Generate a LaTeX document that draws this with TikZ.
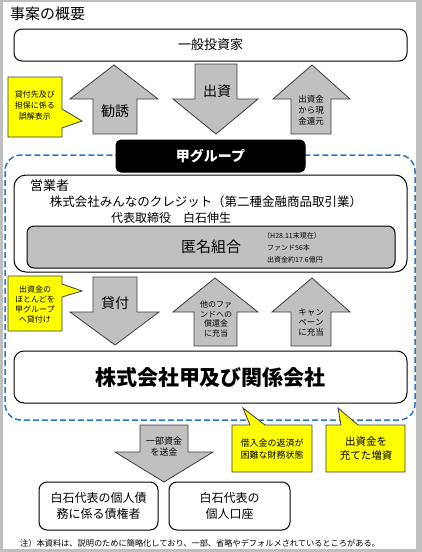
\documentclass[tikz,border=0pt]{standalone}
\usepackage{fontspec}
\setmainfont{Noto Sans CJK JP}
\usetikzlibrary{positioning}
\definecolor{arrowgray}{RGB}{192,192,192}
\definecolor{edgegray}{RGB}{60,60,60}
\definecolor{noteyellow}{RGB}{255,255,0}
\definecolor{groupblue}{RGB}{40,120,200}
\tikzset{
    box/.style={
        draw=black,
        line width=1pt,
        rounded corners=8pt,
        fill=white,
        inner sep=0pt,
        align=center
    },
    blockarrow/.style={
        draw=edgegray,
        fill=arrowgray,
        line width=0.8pt
    },
    callout/.style={
        draw=edgegray,
        fill=noteyellow,
        line width=0.8pt
    },
    lbl/.style={
        inner sep=0pt,
        align=center
    }
}

\begin{document}
\begin{tikzpicture}[
    x=1pt,
    y=-1pt
]

    % Marco
    \fill[black!25] (0,0) rectangle (422,552);
    \fill[white] (3,2) rectangle (416,549);
    \useasboundingbox (0,0) rectangle (422,552);

    \node[lbl, anchor=west, font=\fontsize{15}{15}\selectfont]
        (title) at (10,14) {事案の概要};

    % Inversores
    \node[box, minimum width=393pt, minimum height=32pt,
        font=\fontsize{13}{13}\selectfont]
        (investor) at (210.5,45) {一般投資家};

    % Flechas superiores
    \draw[blockarrow] (93,134) -- (93,99) -- (70,99) -- (114,65)
        -- (158,99) -- (137,99) -- (137,134) -- cycle;
    \draw[blockarrow] (195,64) -- (237,64) -- (237,99) -- (258,99)
        -- (216,134) -- (173,99) -- (195,99) -- cycle;
    \draw[blockarrow] (291,134) -- (291,99) -- (273,99) -- (312,65)
        -- (350,99) -- (331,99) -- (331,134) -- cycle;
    \node[lbl, font=\fontsize{14}{14}\selectfont]
        (solicit) at (115,111) {勧誘};
    \node[lbl, font=\fontsize{14}{14}\selectfont]
        (invest) at (217,91) {出資};
    \node[lbl, font=\fontsize{8.5}{11}\selectfont]
        (refund) at (311,110) {出資金\\から現\\金還元};

    % Nota: representacion enganosa
    \draw[callout] (8,77) -- (62,77) -- (62,109) -- (82,121) -- (62,128)
        -- (62,137) -- (8,137) -- cycle;
    \node[lbl, font=\fontsize{8}{11}\selectfont]
        (misrep) at (35,105) {貸付先及び\\担保に係る\\誤解表示};

    % Grupo
    \draw[groupblue, line width=1.5pt, dash pattern=on 6pt off 3pt,
        rounded corners=16pt] (5,155) rectangle (415,420);
    \node[box, fill=black, draw=black, text=white, rounded corners=5pt,
        minimum width=189pt, minimum height=32pt,
        font=\bfseries\fontsize{14}{14}\selectfont]
        (group) at (210.5,156) {甲グループ};

    % Operador
    \node[box, rounded corners=12pt, minimum width=393pt, minimum height=97pt]
        (operator) at (210.5,223.5) {};
    \node[lbl, anchor=west, font=\fontsize{13}{13}\selectfont]
        (dealer) at (30,186) {営業者};
    \node[lbl, font=\fontsize{12.5}{12.5}\selectfont]
        (minna) at (206,202) {株式会社みんなのクレジット（第二種金融商品取引業）};
    \node[lbl, font=\fontsize{12}{12}\selectfont]
        (ceo) at (171,218) {代表取締役　白石伸生};
    \node[box, fill=arrowgray, rounded corners=7pt,
        minimum width=368pt, minimum height=42pt,
        font=\fontsize{15}{15}\selectfont]
        (anon) at (211,247) {匿名組合};
    \node[lbl, anchor=west, font=\fontsize{7}{7}\selectfont]
        (funddate) at (263,236) {（H28.11末現在）};
    \node[lbl, anchor=west, font=\fontsize{7}{7}\selectfont]
        (fundnum) at (267,248) {ファンド56本};
    \node[lbl, anchor=west, font=\fontsize{7}{7}\selectfont]
        (fundsum) at (267,260) {出資金約17.6億円};

    % Flechas centrales
    \draw[blockarrow] (93,277) -- (137,277) -- (137,312) -- (159,312)
        -- (115,345) -- (70,312) -- (93,312) -- cycle;
    \draw[blockarrow] (194,346) -- (194,312) -- (173,312) -- (215,278)
        -- (258,312) -- (237,312) -- (237,346) -- cycle;
    \draw[blockarrow] (291,346) -- (291,312) -- (272,312) -- (312,278)
        -- (350,312) -- (331,312) -- (331,346) -- cycle;
    \node[lbl, font=\fontsize{14}{14}\selectfont]
        (loan) at (115,303) {貸付};
    \node[lbl, font=\fontsize{8}{9.5}\selectfont]
        (repay) at (216,319) {他のファ\\ンドへの\\償還金\\に充当};
    \node[lbl, font=\fontsize{8.5}{10}\selectfont]
        (campaign) at (311,322) {キャン\\ペーン\\に充当};

    % Nota: prestamo al grupo
    \draw[callout] (8,276) -- (62,276) -- (62,284) -- (82,291) -- (62,297)
        -- (62,331) -- (8,331) -- cycle;
    \node[lbl, font=\fontsize{8}{10}\selectfont]
        (lend) at (35,304) {出資金の\\ほとんどを\\甲グループ\\へ貸付け};

    % Sociedades
    \node[box, rounded corners=10pt, minimum width=393pt, minimum height=52pt,
        font=\bfseries\fontsize{21}{21}\selectfont]
        (company) at (210.5,377) {株式会社甲及び関係会社};

    % Parte inferior
    \draw[blockarrow] (140,425) -- (188,425) -- (188,452) -- (213,452)
        -- (164,482) -- (115,452) -- (140,452) -- cycle;
    \node[lbl, font=\fontsize{9}{11}\selectfont]
        (remit) at (164,447) {一部資金\\を送金};

    \draw[callout] (232,425) -- (250,425) -- (243,408) -- (265,425)
        -- (312,425) -- (312,472) -- (232,472) -- cycle;
    \node[lbl, font=\fontsize{9}{12}\selectfont]
        (distress) at (272,449) {借入金の返済が\\困難な財務状態};
    \draw[callout] (326,425) -- (341,425) -- (338,408) -- (358,425)
        -- (405,425) -- (405,472) -- (326,472) -- cycle;
    \node[lbl, font=\fontsize{10.5}{14}\selectfont]
        (increase) at (366,449) {出資金を\\充てた増資};

    \node[box, minimum width=119pt, minimum height=48pt,
        font=\fontsize{12}{16}\selectfont]
        (creditor) at (98.5,506) {白石代表の個人債\\務に係る債権者};
    \node[box, minimum width=121pt, minimum height=48pt,
        font=\fontsize{12}{16}\selectfont]
        (account) at (229.5,506) {白石代表の\\個人口座};

    \node[lbl, anchor=west, font=\fontsize{8.2}{8.2}\selectfont]
        (note) at (20,543)
        {注）本資料は、説明のために簡略化しており、一部、省略やデフォルメされているところがある。};

\end{tikzpicture}
\end{document}
